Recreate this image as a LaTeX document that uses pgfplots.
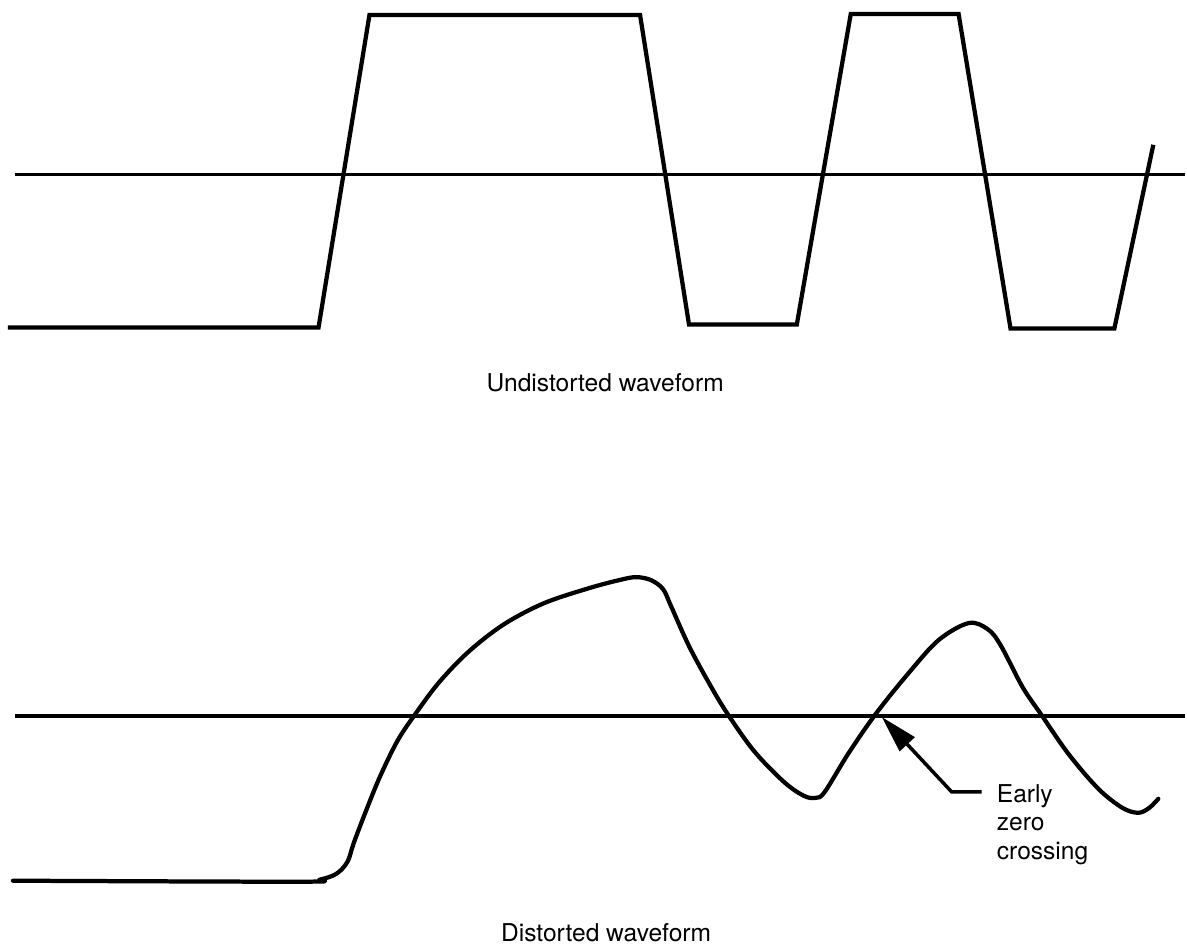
\documentclass[border=0pt]{standalone}
\usepackage{fontspec}
\setmainfont{TeX Gyre Heros}
\usepackage{pgfplots}
\pgfplotsset{compat=1.18}
\usetikzlibrary{arrows.meta}

\begin{document}
\begin{tikzpicture}
\begin{axis}[
    hide axis,
    scale only axis,
    x=0.2mm, y=0.2mm,
    y dir=reverse,
    xmin=0, xmax=1187,
    ymin=0, ymax=950,
    clip=false,
    every axis plot/.append style={black, line width=0.85mm},
]
% reference lines
\addplot[line width=0.7mm] coordinates {(15,175) (1187,175)};
\addplot[line width=0.7mm] coordinates {(15,717) (1187,717)};

% undistorted waveform
\addplot[line join=miter] coordinates {
    (8,328) (319,328) (370,15) (641,15) (690,325) (798,325)
    (852,14) (960,14) (1012,329) (1116,329) (1155,145)
};

% distorted waveform
\addplot[smooth, tension=0.55, line join=round, line cap=round] coordinates {
    (13,882) (300,883) (320,881) (337,875) (348,863) (354,845)
    (365,816) (380,779) (398,742) (416,715) (440,683) (470,652)
    (505,625) (545,604) (590,589) (620,581) (637,578) (652,581)
    (664,590) (672,607) (690,647) (710,684) (728,714) (755,752)
    (785,783) (805,797) (817,799) (826,793) (850,754) (877,715)
    (910,674) (940,641) (970,624) (989,630) (1002,646) (1024,688)
    (1043,716) (1070,755) (1100,790) (1124,809) (1140,814)
    (1151,809) (1160,800)
};

% annotation
\draw[line width=0.7mm, -{Triangle[length=7.5mm, width=4mm]}]
    (axis cs:983,793) -- (axis cs:953,793) -- (axis cs:883,718);
\node[anchor=north west, align=left, inner sep=0pt,
      font=\fontsize{14}{16.4}\selectfont] at (axis cs:998,785)
    {Early\\zero\\crossing};

\node[anchor=base, inner sep=0pt, font=\fontsize{14}{16.4}\selectfont]
    at (axis cs:606,392) {Undistorted waveform};
\node[anchor=base, inner sep=0pt, font=\fontsize{14}{16.4}\selectfont]
    at (axis cs:607,943) {Distorted waveform};

\path (rel axis cs:0,0) rectangle (rel axis cs:1,1);
\end{axis}
\end{tikzpicture}
\end{document}
